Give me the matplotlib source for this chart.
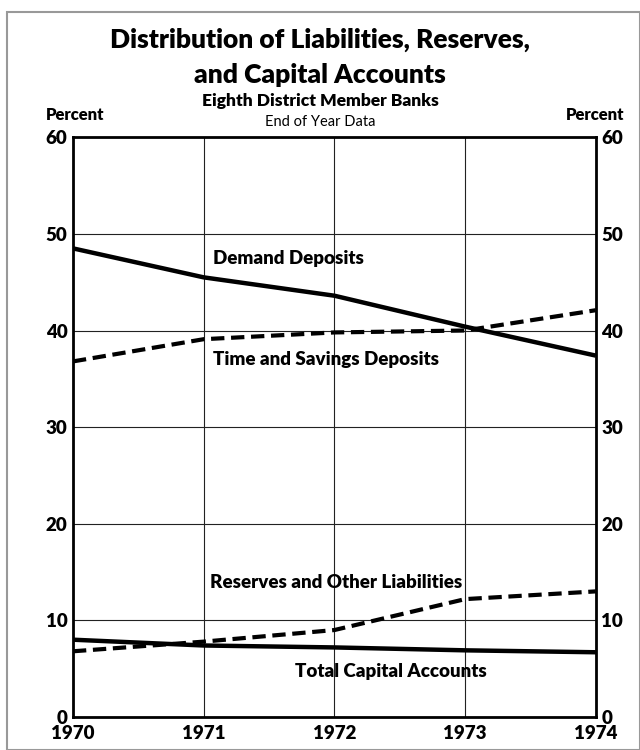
import matplotlib
matplotlib.use("Agg")
import matplotlib.pyplot as plt
from matplotlib.patches import Rectangle

years = [1970, 1971, 1972, 1973, 1974]
demand_deposits = [48.5, 45.5, 43.6, 40.4, 37.4]
time_savings = [36.8, 39.1, 39.8, 40.0, 42.1]
reserves_other = [6.8, 7.8, 9.0, 12.2, 13.0]
total_capital = [8.0, 7.4, 7.2, 6.9, 6.7]
yticks = [0, 10, 20, 30, 40, 50, 60]

narrow = ['Lato', 'DejaVu Sans']
titlef = ['Lato', 'DejaVu Sans']

fig = plt.figure(figsize=(6.4, 7.5), dpi=100)
ax = fig.add_axes([0.114, 0.044, 0.817, 0.773])

ax.plot(years, demand_deposits, color='black', lw=3.2, solid_capstyle='butt')
ax.plot(years, time_savings, color='black', lw=3.0, dashes=(3.2, 1.6))
ax.plot(years, reserves_other, color='black', lw=3.0, dashes=(3.2, 1.6))
ax.plot(years, total_capital, color='black', lw=3.2)

ax.set_xlim(1970, 1974)
ax.set_ylim(0, 60)
ax.set_xticks(years)
ax.set_xticklabels([str(y) for y in years], family=narrow, fontweight='heavy', fontsize=13.5)
ax.set_yticks(yticks)
ax.set_yticklabels([str(v) for v in yticks], family=narrow, fontweight='heavy', fontsize=13.5)
ax.tick_params(axis='x', length=0, pad=6)
ax.tick_params(axis='y', length=0, pad=4)
ax.tick_params(axis='y', labelright=True, right=False)
ax.grid(True, color='#222222', lw=0.8)
for s in ax.spines.values():
    s.set_linewidth(2.0)

lab = dict(family=narrow, fontweight='heavy', fontsize=13.5, ha='left', va='center')
ax.text(1971.07, 47.5, 'Demand Deposits', **lab)
ax.text(1971.07, 37.0, 'Time and Savings Deposits', **lab)
ax.text(1971.05, 13.9, 'Reserves and Other Liabilities', **lab)
ax.text(1971.7, 4.7, 'Total Capital Accounts', **lab)

fig.text(0.5, 0.947, 'Distribution of Liabilities, Reserves,', family=titlef,
         fontweight='heavy', fontsize=19, ha='center', va='center')
fig.text(0.5, 0.900, 'and Capital Accounts', family=titlef,
         fontweight='heavy', fontsize=19, ha='center', va='center')
fig.text(0.5, 0.865, 'Eighth District Member Banks', family=narrow,
         fontweight='heavy', fontsize=12.5, ha='center', va='center')
fig.text(0.5, 0.837, 'End of Year Data', family=titlef,
         fontsize=10.5, ha='center', va='center')
fig.text(0.071, 0.846, 'Percent', family=narrow, fontweight='heavy',
         fontsize=12, ha='left', va='center')
fig.text(0.976, 0.846, 'Percent', family=narrow, fontweight='heavy',
         fontsize=12, ha='right', va='center')

fig.patches.append(Rectangle((0.011, 0.0), 0.989, 0.984, transform=fig.transFigure,
                             fill=False, edgecolor='#999999', lw=1.5))

fig.savefig('out.png', dpi=100)
